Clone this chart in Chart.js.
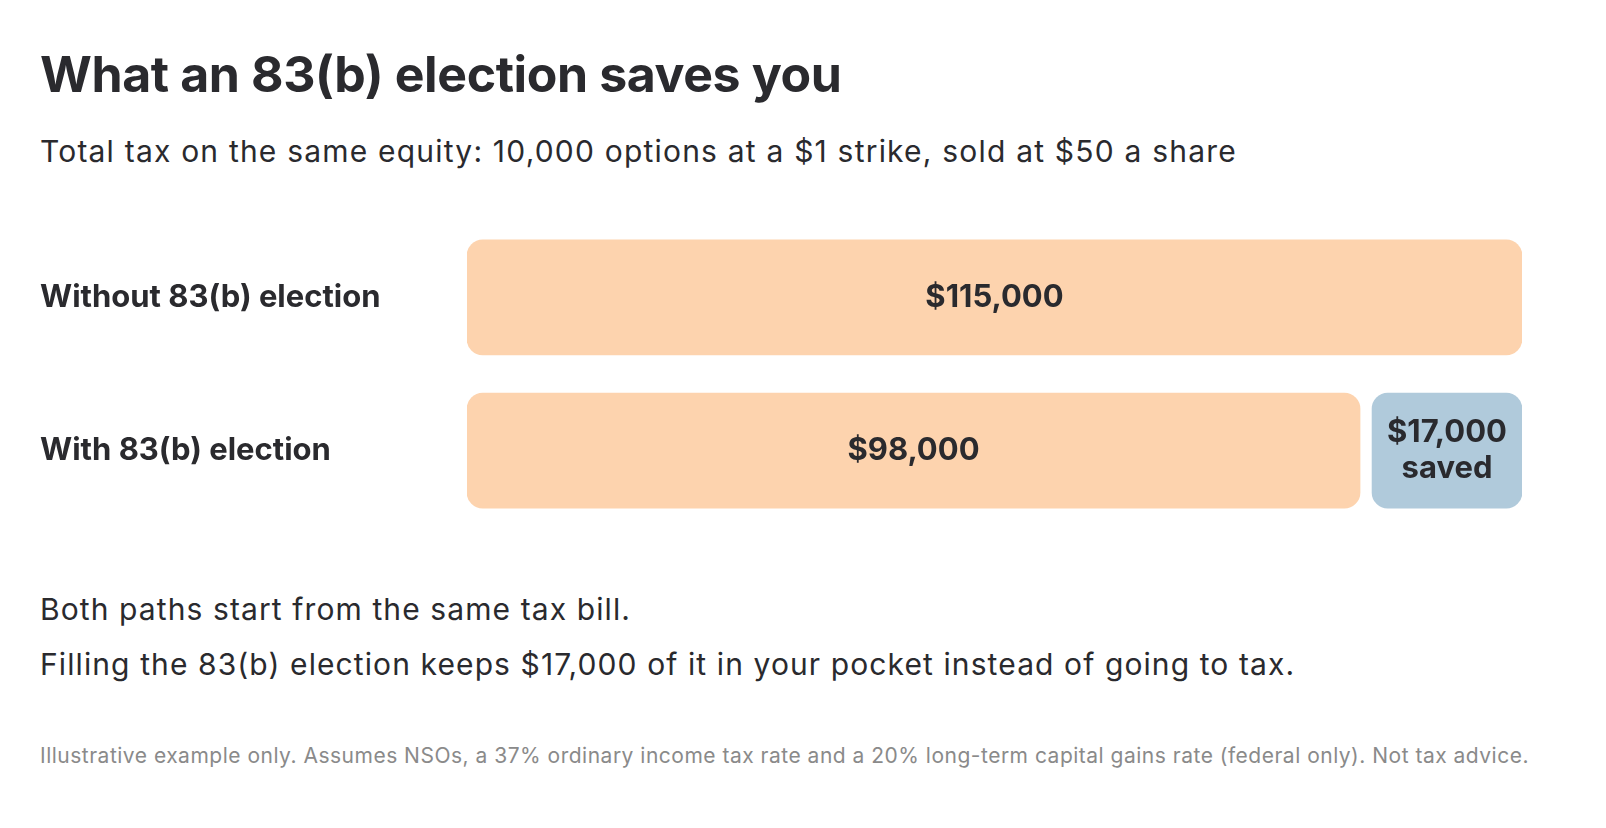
<!DOCTYPE html>
<html><head><meta charset="utf-8">
<script src="https://cdn.jsdelivr.net/npm/chart.js@4"></script>
<style>
body{margin:0;background:#fff;font-family:Inter,"Noto Sans",sans-serif;color:#2a2a2e;width:1606px;height:828px;position:relative;overflow:hidden}
h1{position:absolute;left:40px;top:44px;margin:0;font-size:50px;font-weight:700;letter-spacing:-0.4px}
.sub{position:absolute;left:40px;top:133px;font-size:30px;letter-spacing:1.2px}
.p{position:absolute;left:40px;font-size:30px;letter-spacing:1.1px}
.foot{position:absolute;left:40px;top:743px;font-size:21px;color:#8a8a8a;letter-spacing:0.5px}
#wrap{position:absolute;left:0;top:202px;width:1606px;height:344px}
</style></head><body>
<h1>What an 83(b) election saves you</h1>
<div class="sub">Total tax on the same equity: 10,000 options at a $1 strike, sold at $50 a share</div>
<div id="wrap"><canvas id="c"></canvas></div>
<div class="p" style="top:591px">Both paths start from the same tax bill.</div>
<div class="p" style="top:646px">Filling the 83(b) election keeps $17,000 of it in your pocket instead of going to tax.</div>
<div class="foot">Illustrative example only. Assumes NSOs, a 37% ordinary income tax rate and a 20% long-term capital gains rate (federal only). Not tax advice.</div>
<script>
const categories = ["Without 83(b) election", "With 83(b) election"];
const taxPaid = [115000, 98000];
const taxSaved = [0, 17000];
const taxLabels = ["$115,000", "$98,000"];
const savedLabels = ["", "$17,000|saved"];

const paidRanges = taxPaid.map(v => [0, v]);
const savedRanges = taxSaved.map((v, i) => v ? [taxPaid[i], taxPaid[i] + v] : null);

const gapPlugin = {
  id: 'gap',
  afterDatasetsUpdate(chart) {
    const a = chart.getDatasetMeta(0).data, b = chart.getDatasetMeta(1).data;
    taxSaved.forEach((v, i) => {
      if (!v) return;
      a[i].x -= 6;
      b[i].base += 6;
      b[i].width = b[i].x - b[i].base;
    });
  }
};

const labelPlugin = {
  id: 'lbl',
  afterDatasetsDraw(chart) {
    const ctx = chart.ctx;
    ctx.save();
    ctx.fillStyle = '#2a2a2e';
    ctx.font = '700 31px Inter, sans-serif';
    ctx.textAlign = 'center'; ctx.textBaseline = 'middle';
    [taxLabels, savedLabels].forEach((labels, di) => {
      chart.getDatasetMeta(di).data.forEach((bar, i) => {
        const t = labels[i]; if (!t || !bar) return;
        const lines = t.split('|');
        const x = (bar.base + bar.x) / 2;
        lines.forEach((ln, k) => ctx.fillText(ln, x, bar.y + (k - (lines.length - 1) / 2) * 36));
      });
    });
    ctx.restore();
  }
};

new Chart(document.getElementById('c'), {
  type: 'bar',
  data: {
    labels: categories,
    datasets: [
      { data: paidRanges, backgroundColor: '#FDD3AE', borderRadius: 16, borderSkipped: false, borderWidth: 0 },
      { data: savedRanges, backgroundColor: '#B0CADB', borderRadius: 16, borderSkipped: false, borderWidth: 0 }
    ]
  },
  options: {
    indexAxis: 'y', responsive: true, maintainAspectRatio: false, animation: false,
    layout: { padding: { left: 40, right: 84, top: 0, bottom: 0 } },
    datasets: { bar: { barThickness: 115, grouped: false } },
    plugins: { legend: { display: false }, tooltip: { enabled: false } },
    scales: {
      x: { min: 0, max: 115000, display: false },
      y: { grid: { display: false }, border: { display: false },
        afterFit: s => { s.width = 427; },
        ticks: { crossAlign: 'far', padding: 0, color: '#2a2a2e', font: { family: 'Inter, sans-serif', size: 31, weight: '700' } } }
    }
  },
  plugins: [gapPlugin, labelPlugin]
});
</script>
</body></html>
